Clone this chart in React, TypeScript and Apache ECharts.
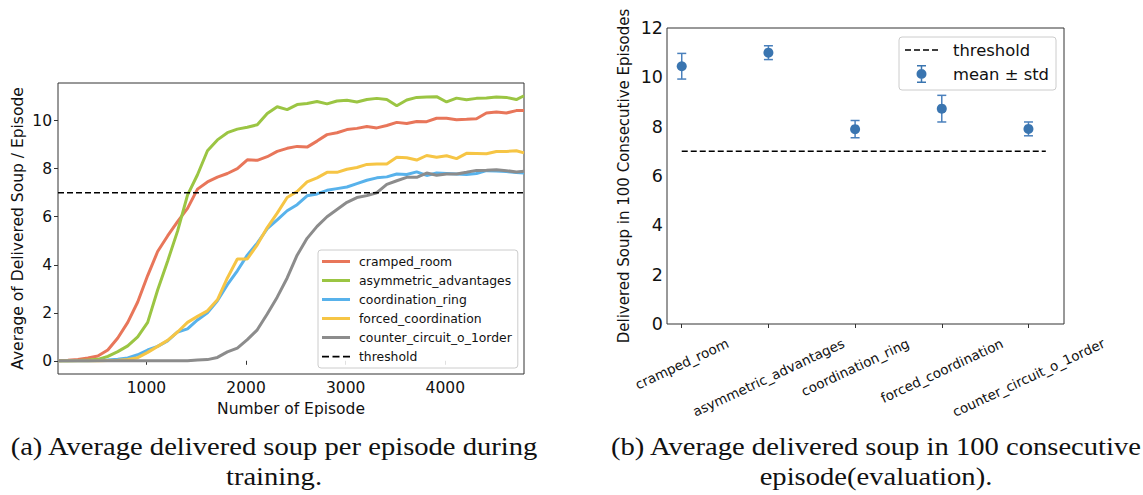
import React, { useEffect, useRef } from 'react';
import * as echarts from 'echarts';

// ---------- data ----------
const episodes = [
  113, 213, 313, 413, 513, 613, 713, 813, 913, 1013, 1113, 1213, 1313, 1413, 1513, 1613,
  1713, 1813, 1913, 2013, 2113, 2213, 2313, 2413, 2513, 2613, 2713, 2813, 2913, 3013, 3113, 3213,
  3313, 3413, 3513, 3613, 3713, 3813, 3913, 4013, 4113, 4213, 4313, 4413, 4513, 4613, 4713, 4790,
];
const crampedRoom = [
  0, 0.02, 0.05, 0.12, 0.2, 0.45, 0.95, 1.6, 2.45, 3.55, 4.55, 5.2, 5.8, 6.35, 7.15, 7.45,
  7.65, 7.8, 8.0, 8.37, 8.35, 8.5, 8.72, 8.85, 8.93, 8.9, 9.15, 9.42, 9.5, 9.63, 9.68, 9.76,
  9.7, 9.8, 9.93, 9.88, 9.97, 9.96, 10.1, 10.1, 10.04, 10.06, 10.08, 10.32, 10.36, 10.32, 10.42, 10.42,
];
const asymmetricAdvantages = [
  0, 0, 0.01, 0.03, 0.06, 0.18, 0.38, 0.62, 1.0, 1.6, 2.95, 4.15, 5.4, 6.9, 7.75, 8.75,
  9.2, 9.5, 9.65, 9.73, 9.83, 10.3, 10.58, 10.46, 10.67, 10.72, 10.8, 10.7, 10.82, 10.85, 10.78, 10.88,
  10.93, 10.88, 10.62, 10.86, 10.97, 10.99, 11.0, 10.78, 10.94, 10.87, 10.93, 10.95, 10.99, 10.97, 10.88, 11.04,
];
const coordinationRing = [
  0, 0, 0, 0, 0.01, 0.03, 0.06, 0.12, 0.25, 0.45, 0.6, 0.83, 1.2, 1.33, 1.7, 2.0,
  2.5, 3.17, 3.75, 4.4, 4.9, 5.5, 5.87, 6.25, 6.5, 6.87, 6.95, 7.1, 7.17, 7.24, 7.38, 7.52,
  7.62, 7.66, 7.78, 7.76, 7.87, 7.72, 7.82, 7.8, 7.78, 7.76, 7.8, 7.92, 7.9, 7.88, 7.84, 7.82,
];
const forcedCoordination = [
  0, 0, 0, 0, 0, 0.01, 0.02, 0.05, 0.13, 0.35, 0.6, 0.85, 1.2, 1.6, 1.85, 2.08,
  2.54, 3.45, 4.24, 4.24, 4.83, 5.55, 6.15, 6.8, 7.05, 7.45, 7.62, 7.85, 7.85, 7.98, 8.05, 8.18,
  8.2, 8.2, 8.48, 8.46, 8.36, 8.55, 8.48, 8.54, 8.42, 8.64, 8.63, 8.62, 8.72, 8.72, 8.75, 8.66,
];
const counterCircuit = [
  0, 0, 0, 0, 0, 0, 0, 0, 0, 0, 0, 0, 0, 0, 0.03, 0.05,
  0.14, 0.37, 0.53, 0.88, 1.29, 1.95, 2.65, 3.45, 4.4, 5.1, 5.6, 6.0, 6.3, 6.6, 6.8, 6.88,
  7.0, 7.35, 7.5, 7.64, 7.64, 7.82, 7.73, 7.78, 7.78, 7.85, 7.93, 7.94, 7.96, 7.92, 7.86, 7.89,
];
const thresholdValue = 7;
const trainXTicks = [1000, 2000, 3000, 4000];
const trainYTicks = [0, 2, 4, 6, 8, 10];

const categories = [
  'cramped_room',
  'asymmetric_advantages',
  'coordination_ring',
  'forced_coordination',
  'counter_circuit_o_1order',
];
const evalMean = [10.45, 11.0, 7.9, 8.73, 7.91];
const evalStd = [0.52, 0.28, 0.35, 0.54, 0.28];
const evalThresholdSpan = [0, 4.2];
const evalXTicks = [0, 1, 2, 3, 4];

const trainSeries = [
  { name: 'cramped_room', values: crampedRoom, color: '#E8765A' },
  { name: 'asymmetric_advantages', values: asymmetricAdvantages, color: '#9BC543' },
  { name: 'coordination_ring', values: coordinationRing, color: '#58B2EB' },
  { name: 'forced_coordination', values: forcedCoordination, color: '#F6C545' },
  { name: 'counter_circuit_o_1order', values: counterCircuit, color: '#8C8C8C' },
];

const FONT = 'DejaVu Sans';
const TXT = '#111';

function measure(text: string, font: string): number {
  const ctx = document.createElement('canvas').getContext('2d');
  if (!ctx) return text.length * 8;
  ctx.font = font;
  return ctx.measureText(text).width;
}

export default function App() {
  const ref = useRef<HTMLDivElement>(null);

  useEffect(() => {
    if (!ref.current) return;
    const chart = echarts.init(ref.current, null, { renderer: 'svg', width: 1143, height: 495 });

    // rotated category labels, centred under their tick like matplotlib ha="center"
    const theta = (25 * Math.PI) / 180;
    const labelSize = 13.5;
    const rich: Record<string, any> = {};
    categories.forEach((c, i) => {
      const L = measure(c, `${labelSize}px "${FONT}"`);
      const d = 11 + (L * Math.sin(theta) + 16 * Math.cos(theta)) / 2;
      rich['r' + i] = {
        fontSize: labelSize,
        fontFamily: FONT,
        color: TXT,
        padding: [2 * d * Math.cos(theta), 2 * d * Math.sin(theta), 0, 0],
      };
    });

    const errIcon =
      'path://M0.5,0 H9.5 V1.5 H5.75 V16.5 H9.5 V18 H0.5 V16.5 H4.25 V1.5 H0.5 Z M0,9 A5,5 0 1,1 10,9 A5,5 0 1,1 0,9 Z';
    const dashIconSmall = 'path://M0,0H6V1.5H0Z M9,0H15V1.5H9Z M18,0H24V1.5H18Z';
    const dashIconBig = 'path://M0,0H6V1.5H0Z M9,0H15V1.5H9Z M18,0H24V1.5H18Z M27,0H33V1.5H27Z';

    const option: any = {
      animation: false,
      textStyle: { fontFamily: FONT, color: TXT },
      grid: [
        { left: 58, top: 83, width: 466, height: 291, show: true, borderColor: '#333', borderWidth: 1, backgroundColor: 'transparent' },
        { left: 667, top: 28, width: 397, height: 296, show: true, borderColor: '#333', borderWidth: 1, backgroundColor: 'transparent' },
      ],
      xAxis: [
        {
          type: 'value', gridIndex: 0, min: 113, max: 4790,
          axisLine: { show: false },
          axisTick: { show: true, length: 4, customValues: trainXTicks, lineStyle: { color: '#333' } },
          axisLabel: { customValues: trainXTicks, fontSize: 15.5, color: TXT, margin: 6, formatter: (v: number) => String(v) },
          splitLine: { show: false },
          name: 'Number of Episode', nameLocation: 'middle', nameGap: 26,
          nameTextStyle: { fontSize: 15.5, color: TXT },
        },
        {
          type: 'value', gridIndex: 1, min: -0.17, max: 4.41,
          axisLine: { show: false },
          axisTick: { show: true, length: 4, customValues: evalXTicks, lineStyle: { color: '#333' } },
          axisLabel: {
            customValues: evalXTicks,
            rotate: 25,
            align: 'center',
            verticalAlign: 'middle',
            margin: 0,
            rich,
            formatter: (v: number) => {
              const i = Math.round(v);
              return `{r${i}|${categories[i]}}`;
            },
          },
          splitLine: { show: false },
        },
      ],
      yAxis: [
        {
          type: 'value', gridIndex: 0, min: -0.55, max: 11.57,
          axisLine: { show: false },
          axisTick: { show: true, length: 4, customValues: trainYTicks, lineStyle: { color: '#333' } },
          axisLabel: { customValues: trainYTicks, fontSize: 15.5, color: TXT, margin: 6 },
          splitLine: { show: false },
          name: 'Average of Delivered Soup / Episode', nameLocation: 'middle', nameGap: 32,
          nameTextStyle: { fontSize: 15.5, color: TXT },
        },
        {
          type: 'value', gridIndex: 1, min: 0, max: 12, interval: 2,
          axisLine: { show: false },
          axisTick: { show: false },
          axisLabel: { fontSize: 17.5, color: TXT, margin: 4 },
          splitLine: { show: false },
          name: 'Delivered Soup in 100 Consecutive Episodes', nameLocation: 'middle', nameGap: 36,
          nameTextStyle: { fontSize: 15, color: TXT },
        },
      ],
      legend: [
        {
          orient: 'vertical', left: 318, top: 250,
          padding: [4, 6, 4, 4],
          itemWidth: 28, itemHeight: 3, itemGap: 4,
          icon: 'rect',
          backgroundColor: 'rgba(255,255,255,0.85)', borderColor: '#cccccc', borderWidth: 1, borderRadius: 3,
          textStyle: { fontSize: 12.4, color: TXT, lineHeight: 15, padding: [0, 0, 0, 4] },
          data: [...trainSeries.map((s) => s.name), { name: 'threshold', icon: dashIconSmall }],
          selectedMode: false,
        },
        {
          orient: 'vertical', left: 899, top: 37,
          padding: [3, 7, 6, 6],
          itemWidth: 33, itemHeight: 18, itemGap: 4,
          backgroundColor: 'rgba(255,255,255,0.85)', borderColor: '#cccccc', borderWidth: 1, borderRadius: 3,
          textStyle: { fontSize: 16.4, color: TXT, lineHeight: 20, padding: [0, 0, 0, 10] },
          data: [{ name: 'threshold', icon: dashIconBig }, { name: 'mean ± std', icon: errIcon }],
          selectedMode: false,
        },
      ],
      series: [
        ...trainSeries.map((s) => ({
          type: 'line', name: s.name, xAxisIndex: 0, yAxisIndex: 0,
          data: episodes.map((e, i) => [e, s.values[i]]),
          symbol: 'none', showSymbol: false,
          lineStyle: { width: 3, color: s.color }, itemStyle: { color: s.color },
          clip: true,
        })),
        {
          type: 'line', name: 'threshold', xAxisIndex: 0, yAxisIndex: 0,
          data: [[episodes[0], thresholdValue], [episodes[episodes.length - 1], thresholdValue]],
          symbol: 'none', lineStyle: { width: 1.5, color: '#000', type: [6, 3] }, itemStyle: { color: '#000' },
          z: 5,
        },
        {
          type: 'line', name: 'threshold', xAxisIndex: 1, yAxisIndex: 1,
          data: evalThresholdSpan.map((x) => [x, thresholdValue]),
          symbol: 'none', lineStyle: { width: 1.5, color: '#000', type: [6, 3] }, itemStyle: { color: '#000' },
        },
        {
          type: 'custom', name: 'errorbars', xAxisIndex: 1, yAxisIndex: 1,
          data: categories.map((_, i) => [i, evalMean[i] - evalStd[i], evalMean[i] + evalStd[i]]),
          encode: { x: 0, y: [1, 2] },
          renderItem: (_params: any, api: any) => {
            const lo = api.coord([api.value(0), api.value(1)]);
            const hi = api.coord([api.value(0), api.value(2)]);
            const cap = 4.5;
            const style = { stroke: '#4A80BC', lineWidth: 1.5 };
            return {
              type: 'group',
              children: [
                { type: 'line', shape: { x1: lo[0], y1: lo[1], x2: hi[0], y2: hi[1] }, style },
                { type: 'line', shape: { x1: lo[0] - cap, y1: lo[1], x2: lo[0] + cap, y2: lo[1] }, style },
                { type: 'line', shape: { x1: hi[0] - cap, y1: hi[1], x2: hi[0] + cap, y2: hi[1] }, style },
              ],
            };
          },
          z: 3,
        },
        {
          type: 'scatter', name: 'mean ± std', xAxisIndex: 1, yAxisIndex: 1,
          data: categories.map((_, i) => [i, evalMean[i]]),
          symbol: 'circle', symbolSize: 10,
          itemStyle: { color: '#3A75B0', opacity: 1 },
          z: 4,
        },
      ],
      graphic: [
        {
          type: 'text', x: 274, y: 446, scaleX: 1.1,
          style: { text: '(a) Average delivered soup per episode during', align: 'center', verticalAlign: 'middle', font: '26px "Liberation Serif"', fill: '#111' },
        },
        {
          type: 'text', x: 274, y: 476, scaleX: 1.1,
          style: { text: 'training.', align: 'center', verticalAlign: 'middle', font: '26px "Liberation Serif"', fill: '#111' },
        },
        {
          type: 'text', x: 876, y: 446, scaleX: 1.1,
          style: { text: '(b) Average delivered soup in 100 consecutive', align: 'center', verticalAlign: 'middle', font: '26px "Liberation Serif"', fill: '#111' },
        },
        {
          type: 'text', x: 876, y: 476, scaleX: 1.1,
          style: { text: 'episode(evaluation).', align: 'center', verticalAlign: 'middle', font: '26px "Liberation Serif"', fill: '#111' },
        },
      ],
    };

    chart.setOption(option);
    return () => chart.dispose();
  }, []);

  return (
    <div
      ref={ref}
      style={{ position: 'fixed', left: 0, top: 0, width: 1143, height: 495, background: '#fff' }}
    />
  );
}
